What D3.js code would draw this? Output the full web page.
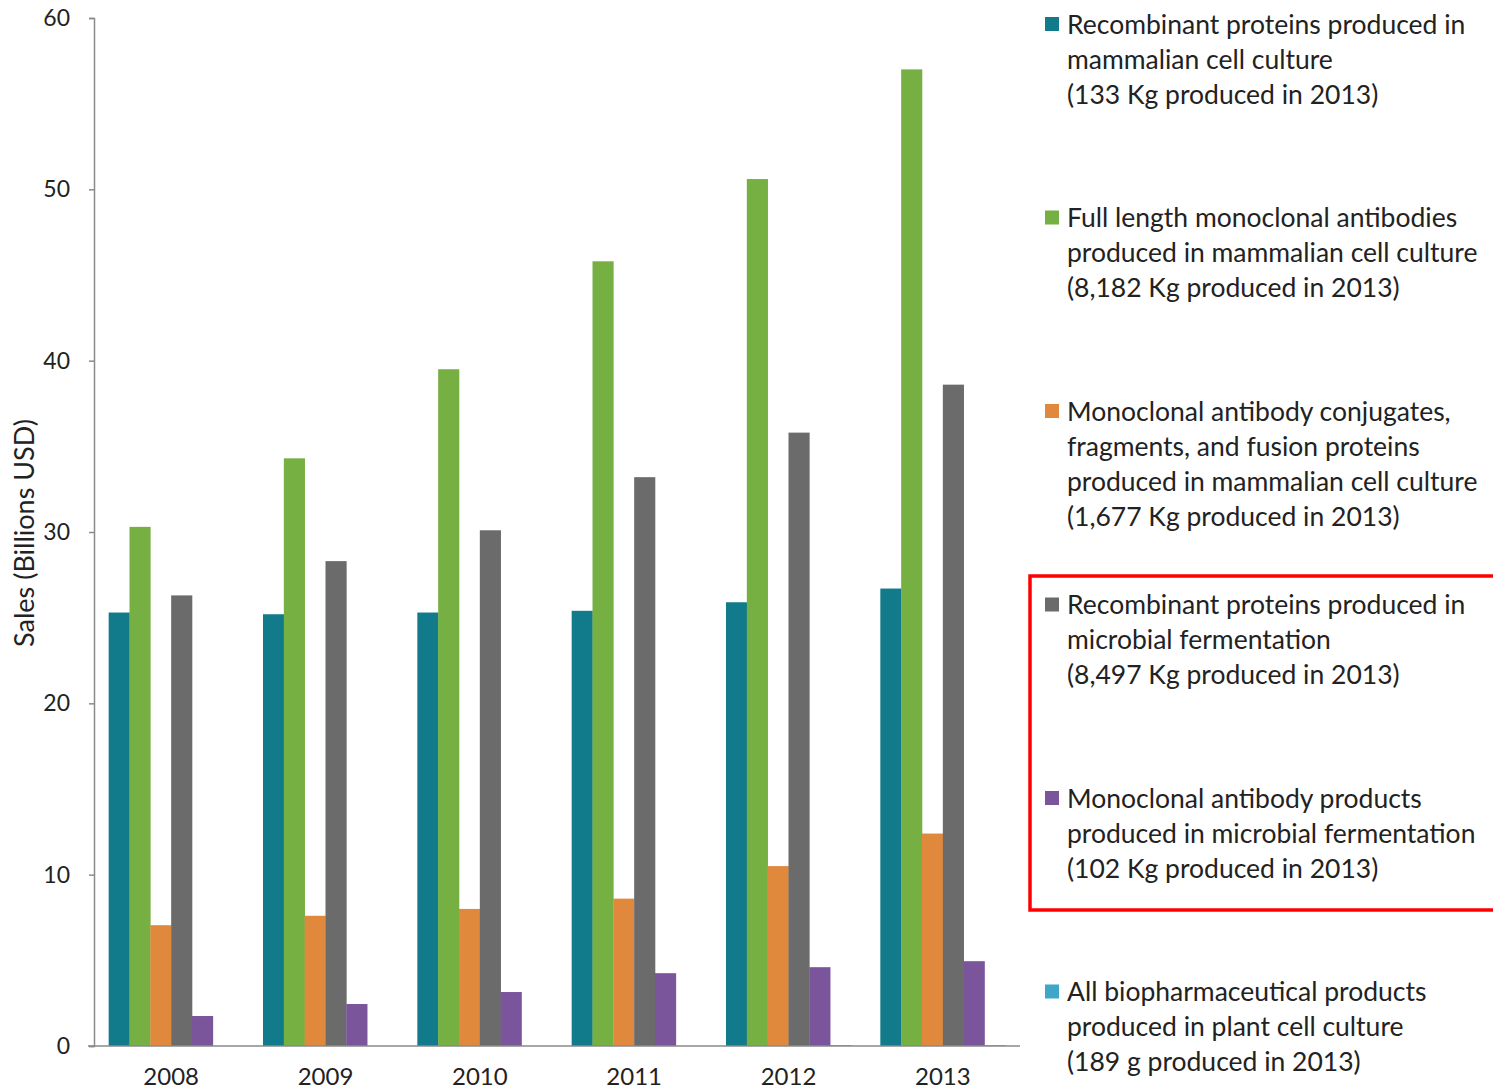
<!DOCTYPE html>
<meta charset="utf-8">
<script src="https://d3js.org/d3.v7.min.js"></script>
<style>
  body { margin: 0; background: #fff; }
  text { font-family: Lato, "Open Sans", sans-serif; fill: #222; }
</style>
<div id="chart"></div>
<script>

var width = 1493, height = 1092;

// dados
var years = ["2008", "2009", "2010", "2011", "2012", "2013"];

var seriesNames = [
  "Recombinant proteins produced in|mammalian cell culture|(133 Kg produced in 2013)",
  "Full length monoclonal antibodies|produced in mammalian cell culture|(8,182 Kg produced in 2013)",
  "Monoclonal antibody conjugates,|fragments, and fusion proteins|produced in mammalian cell culture|(1,677 Kg produced in 2013)",
  "Recombinant proteins produced in|microbial fermentation|(8,497 Kg produced in 2013)",
  "Monoclonal antibody products|produced in microbial fermentation|(102 Kg produced in 2013)",
  "All biopharmaceutical products|produced in plant cell culture|(189 g produced in 2013)"
];

var recombMammalian = [25.3, 25.2, 25.3, 25.4, 25.9, 26.7];
var mabMammalian    = [30.3, 34.3, 39.5, 45.8, 50.6, 57.0];
var conjugates      = [7.05, 7.6, 8.0, 8.6, 10.5, 12.4];
var recombMicrobial = [26.3, 28.3, 30.1, 33.2, 35.8, 38.6];
var mabMicrobial    = [1.75, 2.45, 3.15, 4.25, 4.6, 4.95];
var plantCulture    = [0, 0, 0, 0, 0.05, 0.05];

var yTicks = [0, 10, 20, 30, 40, 50, 60];

var colors = ["#127b8b", "#76b043", "#e0883c", "#6b6b6b", "#7a559b", "#3ea6c6"];

var allSeries = [recombMammalian, mabMammalian, conjugates, recombMicrobial, mabMicrobial, plantCulture];

var svg = d3.select("#chart")
  .append("svg")
  .attr("width", width)
  .attr("height", height);

var margin = {left: 94, right: 1020, top: 18, bottom: 1046};

var x = d3.scaleBand()
  .domain(years)
  .range([margin.left, margin.right])
  .paddingInner(0.19)
  .paddingOuter(0.095);

var x1 = d3.scaleBand()
  .domain(d3.range(allSeries.length))
  .range([0, x.bandwidth()]);

var y = d3.scaleLinear()
  .domain([0, 60])
  .range([margin.bottom, margin.top]);

// barras
var groups = svg.selectAll("g.serie")
  .data(allSeries)
  .join("g")
  .attr("class", "serie")
  .attr("fill", function(d, i) { return colors[i]; });

groups.each(function(vals, si) {
  d3.select(this).selectAll("rect")
    .data(vals)
    .join("rect")
    .attr("x", function(d, i) { return x(years[i]) + x1(si); })
    .attr("width", x1.bandwidth() + 0.3)
    .attr("y", function(d) { return y(d); })
    .attr("height", function(d) { return y(0) - y(d); });
});

// eixo y
var yAxis = svg.append("g")
  .attr("transform", "translate(" + margin.left + ",0)")
  .call(d3.axisLeft(y).tickValues(yTicks).tickSize(5).tickPadding(19));

yAxis.select(".domain").attr("stroke", "#8a8a8a").attr("stroke-width", 1.5);
yAxis.selectAll(".tick line").attr("stroke", "#8a8a8a").attr("stroke-width", 1.5);
yAxis.selectAll(".tick text")
  .style("font-size", "23px")
  .style("font-family", "Lato, sans-serif")
  .attr("fill", "#222");

// eixo x
svg.append("line")
  .attr("x1", 88).attr("x2", margin.right)
  .attr("y1", y(0)).attr("y2", y(0))
  .attr("stroke", "#8a8a8a")
  .attr("stroke-width", 1.5);

svg.selectAll("text.year")
  .data(years)
  .join("text")
  .attr("class", "year")
  .attr("x", function(d) { return x(d) + x.bandwidth() / 2; })
  .attr("y", 1085)
  .attr("text-anchor", "middle")
  .style("font-size", "24px")
  .text(function(d) { return d; });

// titulo do eixo
svg.append("text")
  .attr("transform", "translate(34,533) rotate(-90)")
  .attr("text-anchor", "middle")
  .style("font-size", "27px")
  .text("Sales (Billions USD)");

// legenda
var leg = svg.selectAll("g.leg")
  .data(seriesNames)
  .join("g")
  .attr("class", "leg")
  .attr("transform", function(d, i) { return "translate(1045," + (24 + i * 193.5) + ")"; });

leg.append("rect")
  .attr("x", 0).attr("y", -7)
  .attr("width", 14).attr("height", 14)
  .attr("fill", function(d, i) { return colors[i]; });

leg.each(function(d) {
  var lines = d.split("|");
  d3.select(this).selectAll("text")
    .data(lines)
    .join("text")
    .attr("x", 22)
    .attr("y", function(l, j) { return j * 35; })
    .attr("dy", "0.36em")
    .style("font-size", "26.5px")
    .text(function(l) { return l; });
});

// caixa vermelha
svg.append("rect")
  .attr("x", 1030).attr("y", 576)
  .attr("width", 470).attr("height", 334)
  .attr("fill", "none")
  .attr("stroke", "#f00")
  .attr("stroke-width", 3.5);

</script>
